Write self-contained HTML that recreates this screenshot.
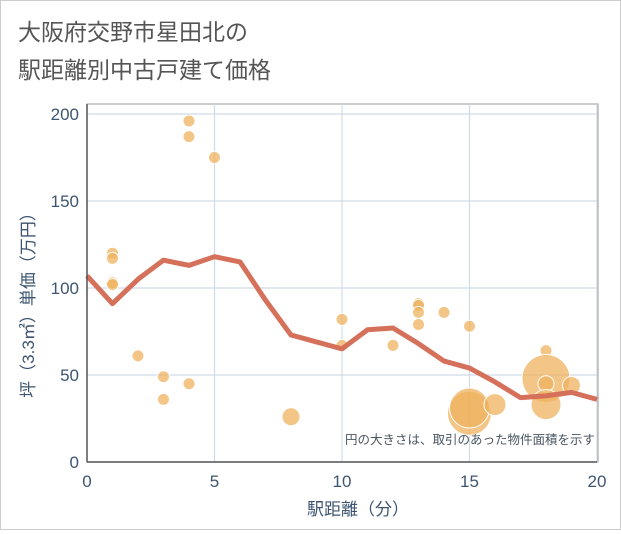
<!DOCTYPE html>
<html><head><meta charset="utf-8"><style>
body{margin:0;background:#fff;font-family:"Liberation Sans","Noto Sans CJK JP",sans-serif;}
#wrap{position:relative;width:619px;height:528px;border:1px solid #ccc;background:#fff;}
</style></head><body>
<div id="wrap">
<svg id="chart" width="619" height="528" xmlns="http://www.w3.org/2000/svg">
<text x="17" y="39" font-size="23" fill="#555">大阪府交野市星田北の</text>
<text x="17" y="77" font-size="23" fill="#555">駅距離別中古戸建て価格</text>
<g id="grid"></g><g id="bubbles"></g><g id="line"></g><g id="axes"></g>
<text x="594" y="443" font-size="12.5" fill="#4a5560" text-anchor="end">円の大きさは、取引のあった物件面積を示す</text>
<text x="357" y="514" font-size="17" fill="#3d5570" text-anchor="middle">駅距離（分）</text>
<text transform="translate(33,300) rotate(-90)" font-size="17" fill="#3d5570" text-anchor="middle">坪（3.3㎡）単価（万円）</text>
</svg></div>
<script>
const xTicks=[0,5,10,15,20];
const yTicks=[0,50,100,150,200];
const bubbleX=[4,4,5,1,1,1,1,2,3,4,3,8,10,10,12,13,13,13,13,14,15,15,15,16,18,18,18,18,19];
const bubbleY=[196,187,175,120,117,103,102,61,49,45,36,26,82,67,67,91,90,86,79,86,78,28,31,33,64,48,45,33,44];
const bubbleR=[6,6,6,6,6,6,6,6,6,6,6,9,6,6,6,6,6,6,6,6,6,22,20,11,6,24,8,15,9];
const lineX=[0,1,2,3,4,5,6,7,8,9,10,11,12,13,14,15,16,17,18,19,20];
const lineY=[107,91,105,116,113,118,115,93,73,69,65,76,77,68,58,54,46,37,38,40,36];
const L=86,R=596,T=103,B=461;
const xs=v=>L+(v/20)*(R-L);
const ys=v=>B-(v/200)*(B-113);
const NS="http://www.w3.org/2000/svg";
function mk(t,a,p){const e=document.createElementNS(NS,t);for(const k in a)e.setAttribute(k,a[k]);p.appendChild(e);return e;}
const grid=document.getElementById('grid'),axes=document.getElementById('axes');
mk('rect',{x:L,y:T,width:R-L+1,height:B-T,fill:'none',stroke:'#999','stroke-width':1},grid);
xTicks.forEach(v=>{const g=mk('line',{x1:xs(v),x2:xs(v),y1:T,y2:B,stroke:'#d0dbe7','stroke-width':1.2},grid);


const t=mk('text',{x:xs(v),y:486,'font-size':17,fill:'#3d5570','text-anchor':'middle'},axes);t.textContent=v;

});
yTicks.forEach(v=>{const g=mk('line',{x1:L,x2:R,y1:ys(v),y2:ys(v),stroke:'#d0dbe7','stroke-width':1.2},grid);


const t=mk('text',{x:78,y:ys(v)+6,'font-size':17,fill:'#3d5570','text-anchor':'end'},axes);t.textContent=v;

});
mk('line',{x1:L,x2:R,y1:B,y2:B,stroke:'#555','stroke-width':1.5},axes);
mk('line',{x1:L,x2:L,y1:T,y2:B,stroke:'#555','stroke-width':1.5},axes);
const bg=document.getElementById('bubbles');
bubbleX.forEach((x,i)=>{const c=mk('circle',{cx:xs(x),cy:ys(bubbleY[i]),r:bubbleR[i],fill:'#efb25e','fill-opacity':0.75,stroke:'#fff','stroke-width':1},bg);

});
const p=mk('polyline',{points:lineX.map((x,i)=>xs(x)+','+ys(lineY[i])).join(' '),fill:'none',stroke:'#d5705a','stroke-width':5,'stroke-linejoin':'round'},document.getElementById('line'));


</script></body></html>
